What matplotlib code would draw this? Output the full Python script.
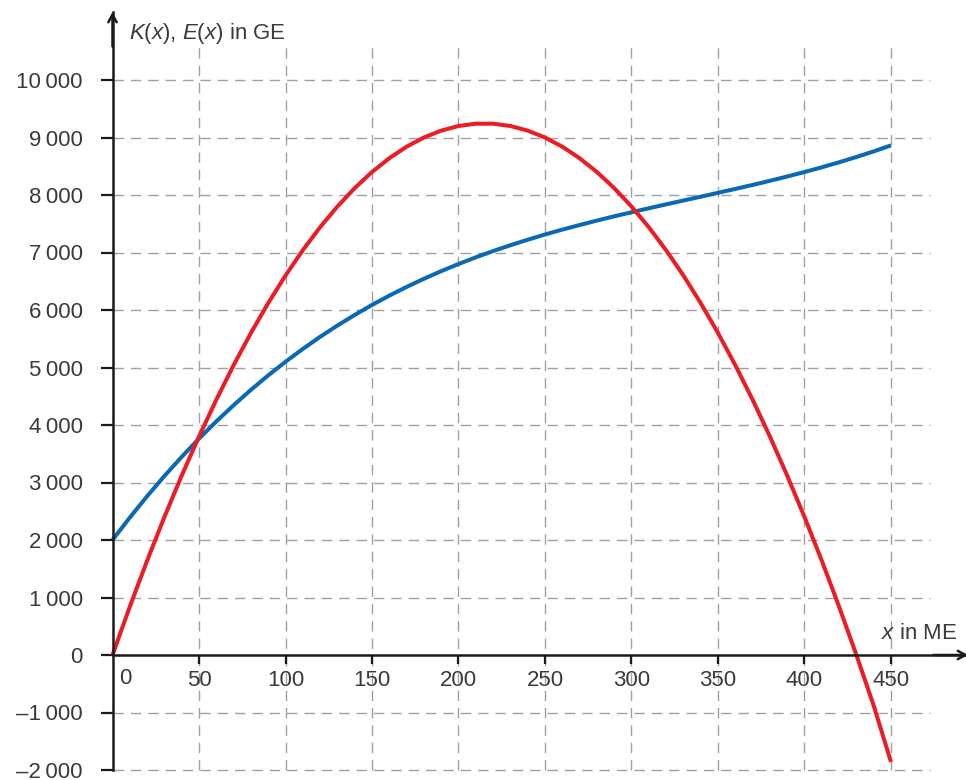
import matplotlib
matplotlib.use("Agg")
import matplotlib.pyplot as plt

plt.rcParams['font.family'] = ['Liberation Sans', 'DejaVu Sans']
plt.rcParams['mathtext.fontset'] = 'custom'
plt.rcParams['mathtext.it'] = 'Liberation Sans:italic'
plt.rcParams['mathtext.rm'] = 'Liberation Sans'

# ---- data ----
x_vals = [0, 10, 20, 30, 40, 50, 60, 70, 80, 90, 100, 110, 120, 130, 140, 150,
          160, 170, 180, 190, 200, 210, 220, 230, 240, 250, 260, 270, 280, 290,
          300, 310, 320, 330, 340, 350, 360, 370, 380, 390, 400, 410, 420, 430,
          440, 450]
E_vals = [0, 840, 1640, 2400, 3120, 3800, 4440, 5040, 5600, 6120, 6600, 7040,
          7440, 7800, 8120, 8400, 8640, 8840, 9000, 9120, 9200, 9240, 9240, 9200,
          9120, 9000, 8840, 8640, 8400, 8120, 7800, 7440, 7040, 6600, 6120, 5600,
          5040, 4440, 3800, 3120, 2400, 1640, 840, 0, -880, -1860]
K_vals = [2000, 2390, 2761, 3113, 3446, 3763, 4062, 4344, 4611, 4863, 5100,
          5323, 5533, 5730, 5914, 6088, 6250, 6401, 6543, 6676, 6800, 6916, 7025,
          7127, 7222, 7313, 7398, 7478, 7555, 7629, 7700, 7769, 7837, 7904, 7970,
          8038, 8106, 8175, 8247, 8322, 8400, 8482, 8569, 8661, 8758, 8863]
x_ticks = [50, 100, 150, 200, 250, 300, 350, 400, 450]
x_tick_labels = ['50', '100', '150', '200', '250', '300', '350', '400', '450']
y_ticks = [-2000, -1000, 0, 1000, 2000, 3000, 4000, 5000, 6000, 7000, 8000,
           9000, 10000]
y_tick_labels = ['\u20132\u2009000', '\u20131\u2009000', '0', '1\u2009000',
                 '2\u2009000', '3\u2009000', '4\u2009000', '5\u2009000',
                 '6\u2009000', '7\u2009000', '8\u2009000', '9\u2009000',
                 '10\u2009000']

# ---- layout ----
W, H = 966, 780
X0, SX = 112.5, 1.73      # px of x=0, px per unit
Y0, SY = 655.0, 0.0575    # px (from top) of y=0, px per unit

fig = plt.figure(figsize=(W / 100, H / 100), dpi=100)
ax = fig.add_axes([0, 0, 1, 1])
ax.set_xlim(-X0 / SX, (W - X0) / SX)
ax.set_ylim((Y0 - H) / SY, Y0 / SY)

text_col = '#3a3a3a'
axis_col = '#1a1a1a'
grid_col = '#a0a0a0'
fs = 16

# grid
y_top_grid = (Y0 - 45) / SY
x_right_grid = (930 - X0) / SX
for xv in x_ticks:
    ax.plot([xv, xv], [-2000, y_top_grid], color=grid_col, lw=1.0,
            dashes=(7.5, 5), zorder=1)
for yv in y_ticks:
    if yv == 0:
        continue
    ax.plot([0, x_right_grid], [yv, yv], color=grid_col, lw=1.0,
            dashes=(7.5, 5), zorder=1)

# curves
ax.plot(x_vals, K_vals, color='#0A69B4', lw=2.9, zorder=3,
        solid_capstyle='butt')
ax.plot(x_vals, E_vals, color='#EC1C24', lw=2.9, zorder=4,
        solid_capstyle='butt')

# spines / axes
for s in ['top', 'right']:
    ax.spines[s].set_visible(False)
y_arrow = (Y0 - 12) / SY
x_arrow = (W + 2 - X0) / SX
ax.spines['left'].set_position(('data', 0))
ax.spines['bottom'].set_position(('data', 0))
ax.spines['left'].set_bounds(-2000, y_arrow)
ax.spines['bottom'].set_bounds(0, x_arrow)
for s in ['left', 'bottom']:
    ax.spines[s].set_linewidth(1.8)
    ax.spines[s].set_color(axis_col)
    ax.spines[s].set_zorder(5)

ax.annotate('', xy=(0, y_arrow), xytext=(0, y_arrow - 600),
            arrowprops=dict(arrowstyle='->,head_length=0.55,head_width=0.3',
                            lw=1.8, color=axis_col, shrinkA=0, shrinkB=0),
            annotation_clip=False, zorder=5)
ax.annotate('', xy=(x_arrow, 0), xytext=(x_arrow - 20, 0),
            arrowprops=dict(arrowstyle='->,head_length=0.55,head_width=0.3',
                            lw=1.8, color=axis_col, shrinkA=0, shrinkB=0),
            annotation_clip=False, zorder=5)

ax.set_xticks(x_ticks)
ax.set_xticklabels(x_tick_labels)
ax.set_yticks(y_ticks)
ax.set_yticklabels(y_tick_labels)
ax.tick_params(axis='x', direction='out', length=6.5, width=1.6,
               color=axis_col, labelsize=fs, labelcolor=text_col, pad=4)
ax.tick_params(axis='y', direction='out', length=8.5, width=1.6,
               color=axis_col, labelsize=fs, labelcolor=text_col, pad=13)

# "0" label on x-axis (offset right)
ax.text((125 - X0) / SX, (Y0 - 668) / SY, '0', fontsize=fs, color=text_col,
        ha='center', va='top')

# axis titles
ax.text((129 - X0) / SX, (Y0 - 39) / SY, '$K$($x$), $E$($x$) in GE',
        fontsize=fs, color=text_col, ha='left', va='baseline')
ax.text((881 - X0) / SX, (Y0 - 639) / SY, '$x$ in ME',
        fontsize=fs, color=text_col, ha='left', va='baseline')

fig.savefig('out.png', dpi=100)
